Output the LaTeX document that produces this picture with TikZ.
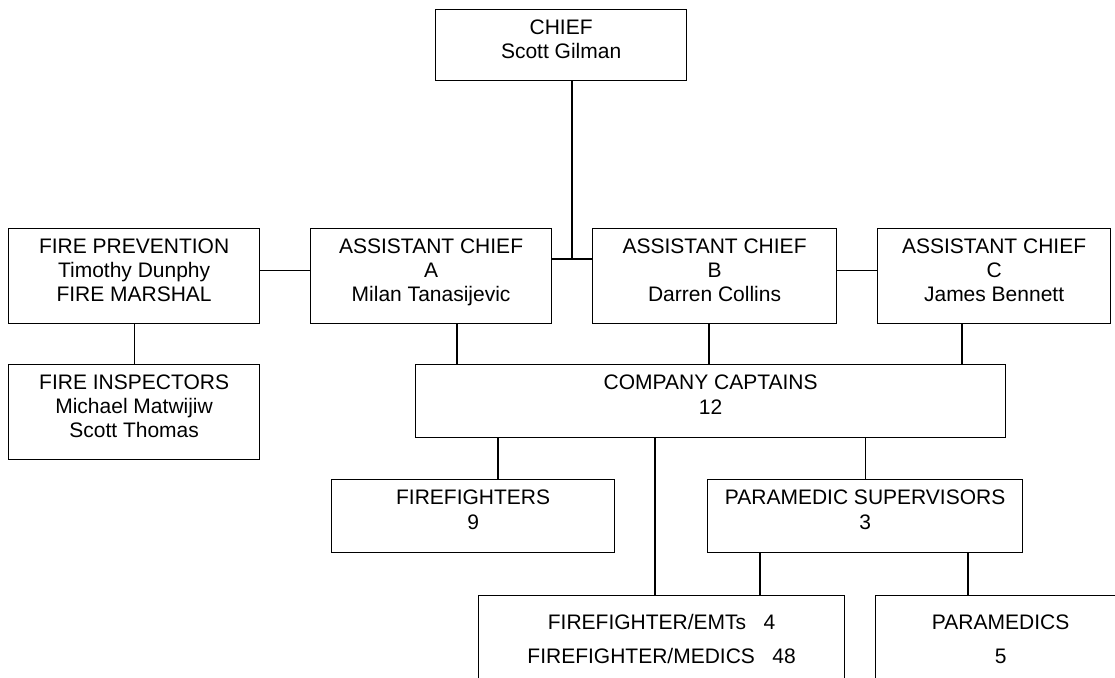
\documentclass[tikz,border=0pt]{standalone}
\usepackage{fontspec}
\setmainfont{Liberation Sans}
\usetikzlibrary{positioning,calc}

\tikzset{
  box/.style={draw, line width=1.2pt, rectangle, anchor=north west, inner sep=0pt},
  txt/.style={anchor=north, align=center, inner sep=0pt, yshift=-11pt,
    font={\fontsize{21}{24}\selectfont}},
  link/.style={draw, line width=1.2pt},
}

\begin{document}
\begin{tikzpicture}[x=1pt,y=-1pt]
\useasboundingbox (0,0) rectangle (1115,677);
\clip (0,0) rectangle (1115,677);

% top level
\node[box, minimum width=251, minimum height=71,
  label={[txt]north:CHIEF\\Scott Gilman}] (chief) at (435,9) {};

% second row
\node[box, minimum width=251, minimum height=95,
  label={[txt]north:FIRE PREVENTION\\Timothy Dunphy\\FIRE MARSHAL}] (fireprev) at (8,228) {};
\node[box, minimum width=241, minimum height=95,
  label={[txt]north:ASSISTANT CHIEF\\A\\Milan Tanasijevic}] (asstA) at (310,228) {};
\node[box, minimum width=244, minimum height=95,
  label={[txt]north:ASSISTANT CHIEF\\B\\Darren Collins}] (asstB) at (592,228) {};
\node[box, minimum width=233, minimum height=95,
  label={[txt]north:ASSISTANT CHIEF\\C\\James Bennett}] (asstC) at (877,228) {};

% third row
\node[box, minimum width=251, minimum height=95,
  label={[txt]north:FIRE INSPECTORS\\Michael Matwijiw\\Scott Thomas}] (inspect) at (8,364) {};
\node[box, minimum width=590, minimum height=73,
  label={[txt]north:COMPANY CAPTAINS\\[1pt]12}] (captains) at (415,364) {};

% fourth row
\node[box, minimum width=283, minimum height=73,
  label={[txt]north:FIREFIGHTERS\\[1pt]9}] (fighters) at (331,479) {};
\node[box, minimum width=315, minimum height=73,
  label={[txt]north:PARAMEDIC SUPERVISORS\\[1pt]3}] (supers) at (707,479) {};

% bottom row
\node[box, minimum width=366, minimum height=100,
  label={[txt,yshift=-8.5pt,font={\fontsize{21}{34}\selectfont}]north:FIREFIGHTER/EMTs\ \ \ 4\\FIREFIGHTER/MEDICS\ \ \ 48}] (emts) at (478,595) {};
\node[box, minimum width=250, minimum height=100,
  label={[txt,yshift=-8.5pt,font={\fontsize{21}{34}\selectfont}]north:PARAMEDICS\\5}] (medics) at (875,595) {};

% connectors
\coordinate (jn) at (572,259);
\path[link] (chief.south -| jn) -- (jn);
\path[link] (asstA.east |- jn) -- (asstB.west |- jn);
\path[link] ([yshift=5.5pt]fireprev.east) -- ([yshift=5.5pt]asstA.west);
\path[link] ([yshift=5.5pt]asstB.east) -- ([yshift=5.5pt]asstC.west);
\path[link] (fireprev.south) -- (inspect.north);
\path[link] (asstA.south -| 457,0) -- (captains.north -| 457,0);
\path[link] (asstB.south -| 709,0) -- (captains.north -| 709,0);
\path[link] (asstC.south -| 962,0) -- (captains.north -| 962,0);
\path[link] (captains.south -| 498,0) -- (fighters.north -| 498,0);
\path[link] (captains.south -| supers.north) -- (supers.north);
\path[link] (captains.south -| 655,0) -- (emts.north -| 655,0);
\path[link] (supers.south -| 760,0) -- (emts.north -| 760,0);
\path[link] (supers.south -| 968,0) -- (medics.north -| 968,0);
\end{tikzpicture}
\end{document}
